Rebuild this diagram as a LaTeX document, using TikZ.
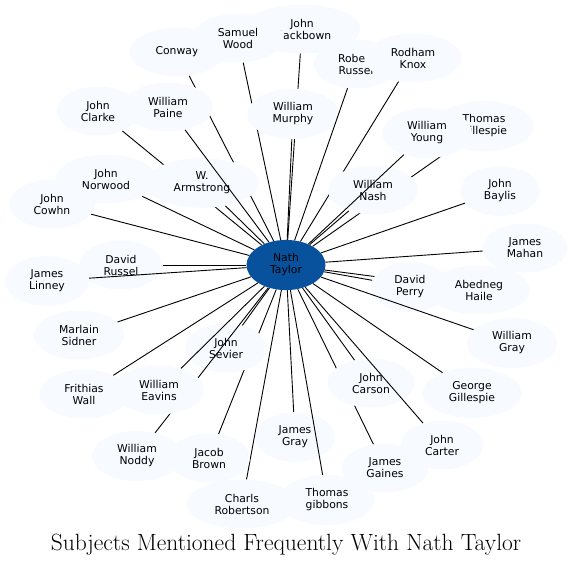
\documentclass[tikz,border=0pt]{standalone}
\usepackage{fontspec}
\newfontfamily\nodefont{DejaVu Sans}
\usetikzlibrary{shapes.geometric}
\definecolor{nodefill}{HTML}{F7FBFF}
\definecolor{hubfill}{HTML}{08519C}
\tikzset{
  person/.style={ellipse, fill=nodefill, draw=none, inner xsep=12pt, inner ysep=6.5pt,
    minimum width=72pt, minimum height=49pt, align=center,
    font=\nodefont\fontsize{10.8}{12}\selectfont, text=black},
  hub/.style={person, fill=hubfill},
  link/.style={draw=black, line width=0.9pt},
  titletext/.style={anchor=base, font=\fontsize{23.5}{28}\selectfont, text=black}
}
\begin{document}
\begin{tikzpicture}[x=1pt,y=-1pt]
\useasboundingbox (0,0) rectangle (572,566);
\node[hub] (nt) at (286,265) {Nath\\Taylor};
\node[person] (conway) at (177,52) {Conway}; \draw[link] (nt) -- (conway);
\node[person] (clarke) at (98,111) {John\\Clarke}; \draw[link] (nt) -- (clarke);
\node[person] (armstrong) at (202,183) {W.\\Armstrong}; \draw[link] (nt) -- (armstrong);
\node[person] (paine) at (168,107) {William\\Paine}; \draw[link] (nt) -- (paine);
\node[person] (norwood) at (106,179) {John\\Norwood}; \draw[link] (nt) -- (norwood);
\node[person] (cowhn) at (52,204) {John\\Cowhn}; \draw[link] (nt) -- (cowhn);
\node[person] (blackbown) at (302,29) {John\\Blackbown}; \draw[link] (nt) -- (blackbown);
\node[person] (wood) at (238,38) {Samuel\\Wood}; \draw[link] (nt) -- (wood);
\node[person] (murphy) at (293,114) {William\\Murphy}; \draw[link] (nt) -- (murphy);
\node[person] (rrussel) at (356,64) {Robert\\Russel}; \draw[link] (nt) -- (rrussel);
\node[person] (knox) at (413,58) {Rodham\\Knox}; \draw[link] (nt) -- (knox);
\node[person] (tgill) at (484,126) {Thomas\\Gillespie}; \draw[link] (nt) -- (tgill);
\node[person] (nash) at (373,190) {William\\Nash}; \draw[link] (nt) -- (nash);
\node[person] (young) at (427,133) {William\\Young}; \draw[link] (nt) -- (young);
\node[person] (baylis) at (500,191) {John\\Baylis}; \draw[link] (nt) -- (baylis);
\node[person] (mahan) at (525,248) {James\\Mahan}; \draw[link] (nt) -- (mahan);
\node[person] (haile) at (479,290) {Abedneg\\Haile}; \draw[link] (nt) -- (haile);
\node[person] (perry) at (410,287) {David\\Perry}; \draw[link] (nt) -- (perry);
\node[person] (wgray) at (512,343) {William\\Gray}; \draw[link] (nt) -- (wgray);
\node[person] (ggill) at (472,393) {George\\Gillespie}; \draw[link] (nt) -- (ggill);
\node[person] (gaines) at (385,468) {James\\Gaines}; \draw[link] (nt) -- (gaines);
\node[person] (carson) at (371,383) {John\\Carson}; \draw[link] (nt) -- (carson);
\node[person] (carter) at (442,445) {John\\Carter}; \draw[link] (nt) -- (carter);
\node[person] (jgray) at (295,437) {James\\Gray}; \draw[link] (nt) -- (jgray);
\node[person] (gibbons) at (327,500) {Thomas\\gibbons}; \draw[link] (nt) -- (gibbons);
\node[person] (robertson) at (242,504) {Charls\\Robertson}; \draw[link] (nt) -- (robertson);
\node[person] (jbrown) at (209,458) {Jacob\\Brown}; \draw[link] (nt) -- (jbrown);
\node[person] (sevier) at (226,348) {John\\Sevier}; \draw[link] (nt) -- (sevier);
\node[person] (noddy) at (137,456) {William\\Noddy}; \draw[link] (nt) -- (noddy);
\node[person] (eavins) at (159,390) {William\\Eavins}; \draw[link] (nt) -- (eavins);
\node[person] (frithias) at (84,394) {Frithias\\Wall}; \draw[link] (nt) -- (frithias);
\node[person] (sidner) at (79,335) {Marlain\\Sidner}; \draw[link] (nt) -- (sidner);
\node[person] (drussel) at (121,265) {David\\Russel}; \draw[link] (nt) -- (drussel);
\node[person] (linney) at (47,281) {James\\Linney}; \draw[link] (nt) -- (linney);
\node[titletext] (title) at (286,550) {Subjects Mentioned Frequently With Nath Taylor};
\end{tikzpicture}
\end{document}
